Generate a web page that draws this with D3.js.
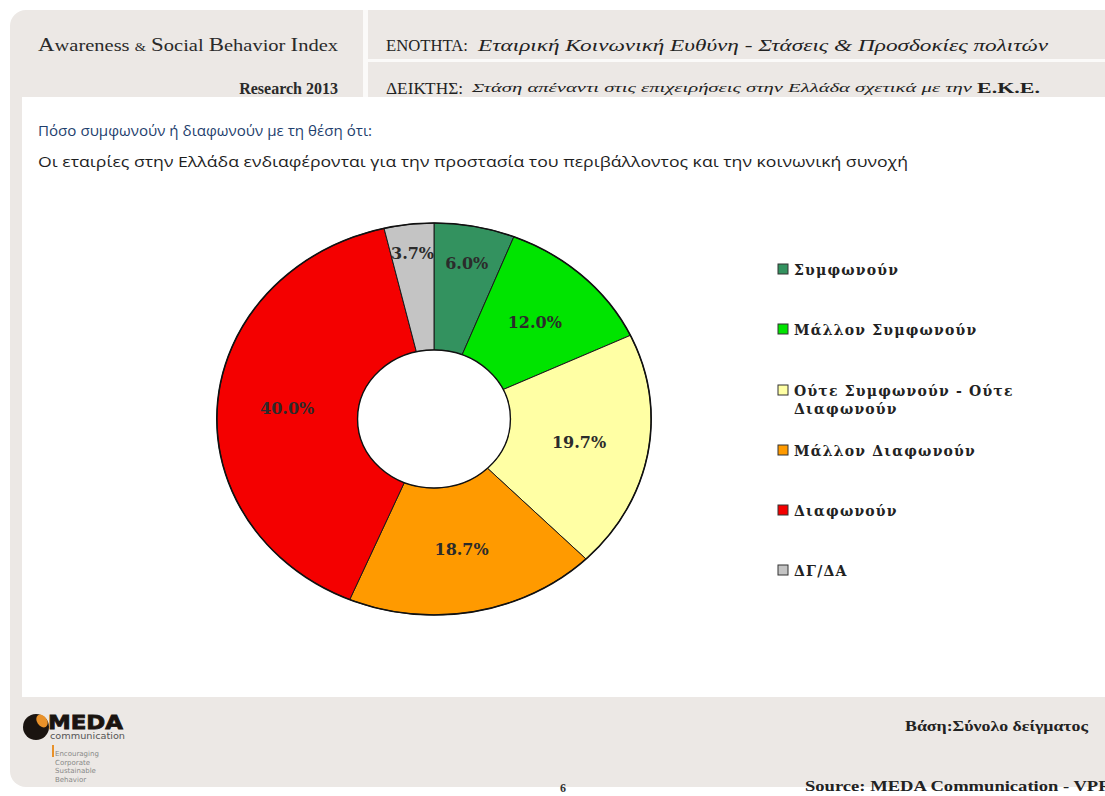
<!DOCTYPE html>
<html><head><meta charset="utf-8">
<script src="https://cdn.jsdelivr.net/npm/d3@7/dist/d3.min.js"></script>
<style>html,body{margin:0;padding:0;background:#fff;overflow:hidden}</style>
</head><body>
<svg id="c" width="1105" height="796"></svg>
<script>
const categories = ["Συμφωνούν","Μάλλον Συμφωνούν","Ούτε Συμφωνούν - Ούτε Διαφωνούν","Μάλλον Διαφωνούν","Διαφωνούν","ΔΓ/ΔΑ"];
const values = [6.0, 12.0, 19.7, 18.7, 40.0, 3.7];
const colors = ["#33925f","#00e400","#ffffa4","#ff9a00","#f40000","#c4c4c4"];
const legendLines = [["Συμφωνούν"],["Μάλλον Συμφωνούν"],["Ούτε Συμφωνούν - Ούτε","Διαφωνούν"],["Μάλλον Διαφωνούν"],["Διαφωνούν"],["ΔΓ/ΔΑ"]];
const headerLeft = "Awareness & Social Behavior Index";
const headerYear = "Research  2013";
const sectionLabel = "ΕΝΟΤΗΤΑ:";
const sectionText = "Εταιρική Κοινωνική Ευθύνη - Στάσεις & Προσδοκίες πολιτών";
const indexLabel = "ΔΕΙΚΤΗΣ:";
const indexText = "Στάση απέναντι στις επιχειρήσεις στην Ελλάδα  σχετικά με την";
const indexBold = "Ε.Κ.Ε.";
const question = "Πόσο συμφωνούν ή διαφωνούν με τη θέση ότι:";
const statement = "Οι εταιρίες στην Ελλάδα ενδιαφέρονται για την προστασία του περιβάλλοντος και την κοινωνική συνοχή";
const baseText = "Βάση:Σύνολο δείγματος";
const sourceText = "Source:  MEDA Communication - VPRC";
const pageNo = "6";

const svg = d3.select("#c");
const serif = "'Liberation Serif','DejaVu Serif',serif";
const cambria = "'DejaVu Serif','Liberation Serif',serif";

// panels
svg.append("rect").attr("x",10).attr("y",10).attr("width",1120).attr("height",777).attr("rx",16).attr("fill","#ece8e5");
svg.append("rect").attr("x",363).attr("y",10).attr("width",5).attr("height",87).attr("fill","#fbfaf9");
svg.append("rect").attr("x",368).attr("y",59).attr("width",737).attr("height",3).attr("fill","#fbfaf9");
svg.append("rect").attr("x",22).attr("y",97).attr("width",1083).attr("height",600).attr("fill","#ffffff");

// header left
const hl = svg.append("text").attr("x",38).attr("y",51).attr("font-family",serif).attr("font-size",17).attr("fill","#2a2a2a")
  .attr("textLength",300).attr("lengthAdjust","spacingAndGlyphs");
hl.append("tspan").attr("font-size",19).text("A");
hl.append("tspan").text("wareness ");
hl.append("tspan").attr("font-size",12).text("&");
hl.append("tspan").text(" ");
hl.append("tspan").attr("font-size",19).text("S");
hl.append("tspan").text("ocial ");
hl.append("tspan").attr("font-size",19).text("B");
hl.append("tspan").text("ehavior ");
hl.append("tspan").attr("font-size",19).text("I");
hl.append("tspan").text("ndex");
svg.append("text").attr("x",338).attr("y",94).attr("text-anchor","end").attr("font-family",serif)
  .attr("font-size",16).attr("font-weight","bold").attr("fill","#2a2a2a").text(headerYear);

// header right
svg.append("text").attr("x",386).attr("y",51).attr("font-family",serif).attr("font-size",17).attr("fill","#222")
  .attr("textLength",82).attr("lengthAdjust","spacingAndGlyphs").text(sectionLabel);
svg.append("text").attr("x",478).attr("y",51).attr("font-family",serif).attr("font-size",17).attr("font-style","italic").attr("fill","#222")
  .attr("textLength",570).attr("lengthAdjust","spacingAndGlyphs").text(sectionText);
svg.append("text").attr("x",386).attr("y",94).attr("font-family",serif).attr("font-size",16).attr("fill","#222")
  .attr("textLength",77).attr("lengthAdjust","spacingAndGlyphs").text(indexLabel);
svg.append("text").attr("x",472).attr("y",92).attr("font-family",serif).attr("font-size",13).attr("font-style","italic").attr("fill","#222")
  .attr("textLength",500).attr("lengthAdjust","spacingAndGlyphs").text(indexText);
svg.append("text").attr("x",977).attr("y",93).attr("font-family",serif).attr("font-size",15).attr("font-weight","bold").attr("fill","#222")
  .attr("textLength",63).attr("lengthAdjust","spacingAndGlyphs").text(indexBold);

// question texts
svg.append("text").attr("x",38).attr("y",136).attr("font-family","'Open Sans','Noto Sans',sans-serif").attr("font-size",14).attr("fill","#1f3f6e")
  .attr("textLength",334).attr("lengthAdjust","spacingAndGlyphs").text(question);
svg.append("text").attr("x",38).attr("y",167).attr("font-family","'Open Sans','Noto Sans',sans-serif").attr("font-size",15).attr("fill","#1e1e1e")
  .attr("textLength",870).attr("lengthAdjust","spacingAndGlyphs").text(statement);

// donut
const cx = 434, cy = 419, ry = 196, rin = 69, sx = 1.108;
const pie = d3.pie().sort(null).value(d => d)(values);
const arc = d3.arc().innerRadius(rin).outerRadius(ry);
const g = svg.append("g").attr("transform",`translate(${cx},${cy}) scale(${sx},1)`);
g.selectAll("path").data(pie).join("path")
  .attr("d",arc).attr("fill",(d,i)=>colors[i])
  .attr("stroke","#1a1a1a").attr("stroke-width",1).attr("vector-effect","non-scaling-stroke");
g.append("ellipse").attr("rx",ry).attr("ry",ry).attr("fill","none").attr("stroke","#111").attr("stroke-width",1.6).attr("vector-effect","non-scaling-stroke");
g.append("circle").attr("r",rin).attr("fill","#fff").attr("stroke","#111").attr("stroke-width",1.4).attr("vector-effect","non-scaling-stroke");

const lbl = svg.append("g");
pie.forEach((d,i)=>{
  const r = d.value < 5 ? 167 : (d.value < 7 ? 158 : 133);
  const a = (d.startAngle + d.endAngle)/2;
  const x = cx + sx * r * Math.sin(a), y = cy - r * Math.cos(a);
  lbl.append("text").attr("x",x).attr("y",y).attr("dy","0.35em").attr("text-anchor","middle")
    .attr("font-family",cambria).attr("font-size",16).attr("font-weight","bold").attr("fill","#2b2b2b")
    .text(d3.format(".1f")(d.value)+"%");
});

// legend
const lg = svg.append("g");
const legY = [270, 330, 391, 451, 511, 571];
legendLines.forEach((lines,i)=>{
  lg.append("rect").attr("x",778).attr("y",legY[i]-6).attr("width",10).attr("height",10)
    .attr("fill",colors[i]).attr("stroke","#333").attr("stroke-width",1);
  lines.forEach((t,j)=>{
    lg.append("text").attr("x",794).attr("y",legY[i]+5+j*18).attr("font-family",cambria).attr("font-size",14)
      .attr("font-weight","bold").attr("letter-spacing",1.2).attr("fill","#222").text(t);
  });
});

// footer
svg.append("text").attr("x",905).attr("y",731).attr("font-family",serif).attr("font-size",15).attr("font-weight","bold").attr("fill","#222")
  .attr("textLength",183).attr("lengthAdjust","spacingAndGlyphs").text(baseText);
svg.append("text").attr("x",805).attr("y",791).attr("font-family",serif).attr("font-size",15).attr("font-weight","bold").attr("fill","#222")
  .attr("textLength",320).attr("lengthAdjust","spacingAndGlyphs").text(sourceText);
svg.append("text").attr("x",560).attr("y",792).attr("font-family",serif).attr("font-size",12).attr("font-weight","bold").attr("fill","#333").text(pageNo);

// logo
const lo = svg.append("g");
lo.append("circle").attr("cx",36).attr("cy",727).attr("r",13).attr("fill","#1a1410");
lo.append("ellipse").attr("cx",42).attr("cy",721).attr("rx",5).attr("ry",7).attr("transform","rotate(-35,42,721)").attr("fill","#e8912a");
lo.append("text").attr("x",48).attr("y",729).attr("font-family","'DejaVu Sans',sans-serif").attr("font-weight","bold").attr("font-size",19)
  .attr("fill","#1a1410").attr("stroke","#1a1410").attr("stroke-width",0.8)
  .attr("textLength",75).attr("lengthAdjust","spacingAndGlyphs").text("MEDA");
lo.append("text").attr("x",50).attr("y",739).attr("font-family","'DejaVu Sans',sans-serif").attr("font-size",8.5).attr("fill","#555")
  .attr("textLength",75).attr("lengthAdjust","spacingAndGlyphs").text("communication");
lo.append("rect").attr("x",52).attr("y",745).attr("width",2).attr("height",12).attr("fill","#e8912a");
["Encouraging","Corporate","Sustainable","Behavior"].forEach((t,i)=>{
  lo.append("text").attr("x",55).attr("y",756+i*8.5).attr("font-family","'DejaVu Sans',sans-serif").attr("font-size",7).attr("fill","#888").text(t);
});
</script>
</body></html>
